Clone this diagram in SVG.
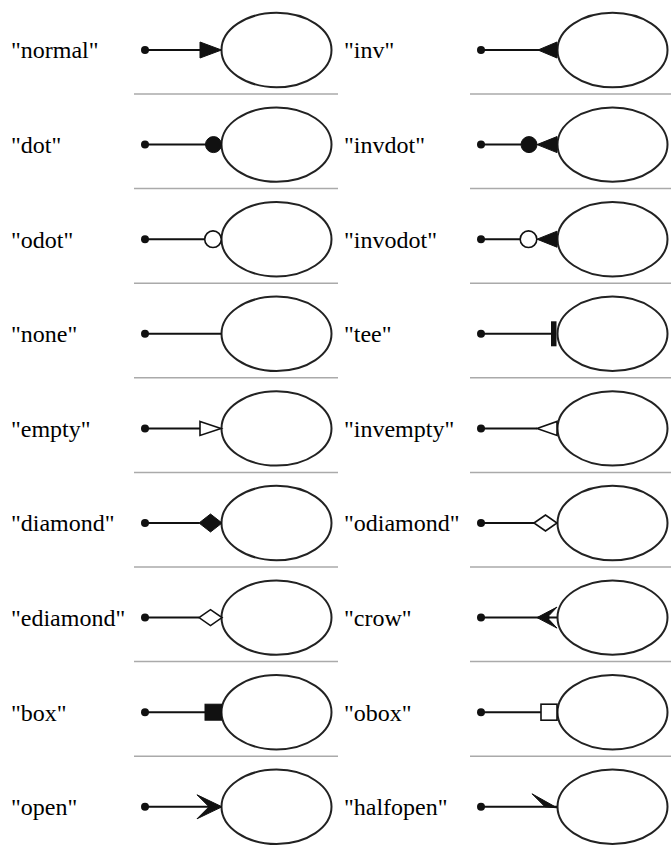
<svg xmlns="http://www.w3.org/2000/svg" width="671" height="850" viewBox="0 0 671 850">
<style>
.lbl{font-family:"Liberation Serif","Times New Roman",serif;font-size:24px;fill:#000}
.sep{stroke:#aaaaaa;stroke-width:1.5}
.nd{fill:#fff;stroke:#222;stroke-width:2}
.e{stroke:#111;stroke-width:2;fill:none}
.f{fill:#111;stroke:#111;stroke-width:1}
.o{fill:#fff;stroke:#111;stroke-width:1.6}
.t{fill:#111}
</style>
<defs>
<ellipse id="ell" cx="0" cy="0" rx="55" ry="37.2"/>
</defs>
<rect width="671" height="850" fill="#fff"/>
<g id="separators">
<line class="sep" x1="134" y1="94" x2="338" y2="94"/><line class="sep" x1="470" y1="94" x2="671" y2="94"/>
<line class="sep" x1="134" y1="188.6" x2="338" y2="188.6"/><line class="sep" x1="470" y1="188.6" x2="671" y2="188.6"/>
<line class="sep" x1="134" y1="283.2" x2="338" y2="283.2"/><line class="sep" x1="470" y1="283.2" x2="671" y2="283.2"/>
<line class="sep" x1="134" y1="377.8" x2="338" y2="377.8"/><line class="sep" x1="470" y1="377.8" x2="671" y2="377.8"/>
<line class="sep" x1="134" y1="472.4" x2="338" y2="472.4"/><line class="sep" x1="470" y1="472.4" x2="671" y2="472.4"/>
<line class="sep" x1="134" y1="567" x2="338" y2="567"/><line class="sep" x1="470" y1="567" x2="671" y2="567"/>
<line class="sep" x1="134" y1="661.6" x2="338" y2="661.6"/><line class="sep" x1="470" y1="661.6" x2="671" y2="661.6"/>
<line class="sep" x1="134" y1="756.2" x2="338" y2="756.2"/><line class="sep" x1="470" y1="756.2" x2="671" y2="756.2"/>
</g>
<g id="labels">
<text class="lbl" x="11" y="58.3">"normal"</text>
<text class="lbl" x="344" y="58.3">"inv"</text>
<text class="lbl" x="11" y="152.9">"dot"</text>
<text class="lbl" x="344" y="152.9">"invdot"</text>
<text class="lbl" x="11" y="247.5">"odot"</text>
<text class="lbl" x="344" y="247.5">"invodot"</text>
<text class="lbl" x="11" y="342.1">"none"</text>
<text class="lbl" x="344" y="342.1">"tee"</text>
<text class="lbl" x="11" y="436.7">"empty"</text>
<text class="lbl" x="344" y="436.7">"invempty"</text>
<text class="lbl" x="11" y="531.3">"diamond"</text>
<text class="lbl" x="344" y="531.3">"odiamond"</text>
<text class="lbl" x="11" y="625.9">"ediamond"</text>
<text class="lbl" x="344" y="625.9">"crow"</text>
<text class="lbl" x="11" y="720.5">"box"</text>
<text class="lbl" x="344" y="720.5">"obox"</text>
<text class="lbl" x="11" y="815.1">"open"</text>
<text class="lbl" x="344" y="815.1">"halfopen"</text>
</g>
<g id="nodes">
<g id="n1l"><circle class="t" cx="145" cy="50" r="4"/><use href="#ell" class="nd" x="276.5" y="50"/></g>
<g id="n1r"><circle class="t" cx="481" cy="50" r="4"/><use href="#ell" class="nd" x="612.5" y="50"/></g>
<g id="n2l"><circle class="t" cx="145" cy="144.6" r="4"/><use href="#ell" class="nd" x="276.5" y="144.6"/></g>
<g id="n2r"><circle class="t" cx="481" cy="144.6" r="4"/><use href="#ell" class="nd" x="612.5" y="144.6"/></g>
<g id="n3l"><circle class="t" cx="145" cy="239.2" r="4"/><use href="#ell" class="nd" x="276.5" y="239.2"/></g>
<g id="n3r"><circle class="t" cx="481" cy="239.2" r="4"/><use href="#ell" class="nd" x="612.5" y="239.2"/></g>
<g id="n4l"><circle class="t" cx="145" cy="333.8" r="4"/><use href="#ell" class="nd" x="276.5" y="333.8"/></g>
<g id="n4r"><circle class="t" cx="481" cy="333.8" r="4"/><use href="#ell" class="nd" x="612.5" y="333.8"/></g>
<g id="n5l"><circle class="t" cx="145" cy="428.4" r="4"/><use href="#ell" class="nd" x="276.5" y="428.4"/></g>
<g id="n5r"><circle class="t" cx="481" cy="428.4" r="4"/><use href="#ell" class="nd" x="612.5" y="428.4"/></g>
<g id="n6l"><circle class="t" cx="145" cy="523" r="4"/><use href="#ell" class="nd" x="276.5" y="523"/></g>
<g id="n6r"><circle class="t" cx="481" cy="523" r="4"/><use href="#ell" class="nd" x="612.5" y="523"/></g>
<g id="n7l"><circle class="t" cx="145" cy="617.6" r="4"/><use href="#ell" class="nd" x="276.5" y="617.6"/></g>
<g id="n7r"><circle class="t" cx="481" cy="617.6" r="4"/><use href="#ell" class="nd" x="612.5" y="617.6"/></g>
<g id="n8l"><circle class="t" cx="145" cy="712.2" r="4"/><use href="#ell" class="nd" x="276.5" y="712.2"/></g>
<g id="n8r"><circle class="t" cx="481" cy="712.2" r="4"/><use href="#ell" class="nd" x="612.5" y="712.2"/></g>
<g id="n9l"><circle class="t" cx="145" cy="806.8" r="4"/><use href="#ell" class="nd" x="276.5" y="806.8"/></g>
<g id="n9r"><circle class="t" cx="481" cy="806.8" r="4"/><use href="#ell" class="nd" x="612.5" y="806.8"/></g>
</g>
<g id="connectors">
<g transform="translate(0,50)">
<line class="e" x1="145" y1="0" x2="202" y2="0"/><polygon class="f" points="200,-8 221.5,0 200,8"/>
<line class="e" x1="481" y1="0" x2="540" y2="0"/><polygon class="f" points="538,0 557,-8 557,8"/>
</g>
<g transform="translate(0,144.6)">
<line class="e" x1="145" y1="0" x2="206" y2="0"/><circle class="f" cx="213.5" cy="0" r="8"/>
<line class="e" x1="481" y1="0" x2="521" y2="0"/><circle class="f" cx="529" cy="0" r="8"/><polygon class="f" points="537,0 557,-8 557,8"/>
</g>
<g transform="translate(0,239.2)">
<line class="e" x1="145" y1="0" x2="204.5" y2="0"/><circle class="o" cx="213" cy="0" r="8.3"/>
<line class="e" x1="481" y1="0" x2="520" y2="0"/><circle class="o" cx="528.5" cy="0" r="8.3"/><polygon class="f" points="537,0 557,-8 557,8"/>
</g>
<g transform="translate(0,333.8)">
<line class="e" x1="145" y1="0" x2="221.5" y2="0"/>
<line class="e" x1="481" y1="0" x2="552" y2="0"/><rect class="t" x="551" y="-12.5" width="5.5" height="25"/>
</g>
<g transform="translate(0,428.4)">
<line class="e" x1="145" y1="0" x2="200" y2="0"/><polygon class="o" points="200,-7 221,0 200,7"/>
<line class="e" x1="481" y1="0" x2="537" y2="0"/><polygon class="o" points="537,0 557,-7 557,7"/>
</g>
<g transform="translate(0,523)">
<line class="e" x1="145" y1="0" x2="199" y2="0"/><polygon class="f" points="199,0 210.5,-9 222,0 210.5,9"/>
<line class="e" x1="481" y1="0" x2="534" y2="0"/><polygon class="o" points="534,0 545.5,-8 557,0 545.5,8"/>
</g>
<g transform="translate(0,617.6)">
<line class="e" x1="145" y1="0" x2="199" y2="0"/><polygon class="o" points="199,0 210.5,-8 222,0 210.5,8"/>
<line class="e" x1="481" y1="0" x2="557" y2="0"/><path class="f" d="M537,0 L557,-10.5 L549,-2 L549,2 L557,10.5 Z"/>
</g>
<g transform="translate(0,712.2)">
<line class="e" x1="145" y1="0" x2="205" y2="0"/><rect class="f" x="205" y="-8" width="16.5" height="16"/>
<line class="e" x1="481" y1="0" x2="541" y2="0"/><rect class="o" x="541" y="-8" width="16" height="16"/>
</g>
<g transform="translate(0,806.8)">
<line class="e" x1="145" y1="0" x2="215" y2="0"/><polygon class="f" points="222,0 197,-12 209,0 197,12"/>
<line class="e" x1="481" y1="0" x2="557" y2="0"/><polygon class="f" points="557,1 532,-13 545,0"/>
</g>
</g>
</svg>
